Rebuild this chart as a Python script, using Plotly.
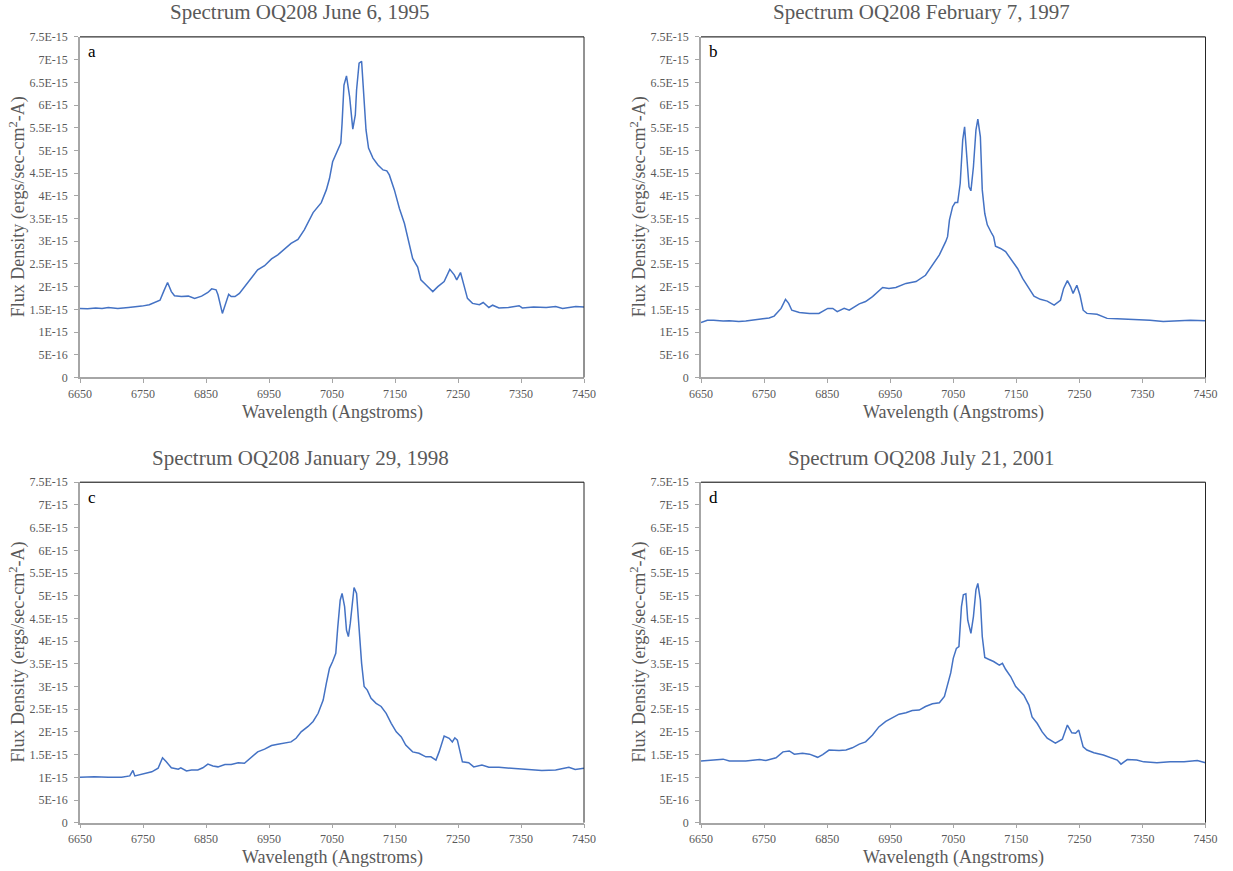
import plotly.graph_objects as go

# ---------------- data (flux in units of 1E-15 ergs/sec-cm2-A) ----------------
SCALE = 1e-15

wl_a = [6650, 6662, 6675, 6685, 6695, 6710, 6727, 6740, 6748, 6760, 6769, 6777, 6783, 6789,
        6795, 6800, 6811, 6822, 6832, 6843, 6853, 6859, 6866, 6869, 6876, 6882, 6886, 6890,
        6896, 6903, 6911, 6922, 6932, 6943, 6954, 6964, 6975, 6985, 6996, 7006, 7020, 7033,
        7041, 7046, 7051, 7057, 7064, 7066, 7069, 7073, 7078, 7083, 7087, 7089, 7093, 7097,
        7101, 7104, 7108, 7115, 7123, 7131, 7137, 7141, 7149, 7157, 7165, 7173, 7178, 7186,
        7191, 7199, 7210, 7218, 7228, 7237, 7244, 7248, 7254, 7260, 7265, 7273, 7284, 7290,
        7299, 7305, 7315, 7330, 7347, 7352, 7370, 7390, 7405, 7416, 7437, 7450]
flux_a = [1.52, 1.51, 1.53, 1.52, 1.54, 1.52, 1.54, 1.55, 1.57, 1.60, 1.65, 1.70, 1.90, 2.09,
          1.89, 1.80, 1.78, 1.79, 1.74, 1.79, 1.87, 1.95, 1.93, 1.82, 1.41, 1.64, 1.83, 1.78,
          1.78, 1.85, 2.00, 2.18, 2.37, 2.46, 2.61, 2.70, 2.83, 2.95, 3.04, 3.25, 3.63, 3.85,
          4.13, 4.38, 4.75, 4.94, 5.16, 5.60, 6.44, 6.64, 6.18, 5.47, 5.78, 6.33, 6.92, 6.96,
          6.18, 5.45, 5.05, 4.83, 4.68, 4.57, 4.55, 4.46, 4.13, 3.72, 3.39, 2.95, 2.62, 2.43,
          2.15, 2.04, 1.89, 2.00, 2.11, 2.38, 2.26, 2.15, 2.31, 2.00, 1.74, 1.63, 1.60, 1.65,
          1.54, 1.59, 1.53, 1.54, 1.58, 1.53, 1.55, 1.54, 1.56, 1.52, 1.56, 1.55]

wl_b = [6650, 6660, 6670, 6685, 6695, 6710, 6721, 6735, 6748, 6758, 6766, 6777, 6784, 6789,
        6794, 6806, 6822, 6837, 6851, 6859, 6866, 6877, 6885, 6901, 6911, 6922, 6938, 6948,
        6959, 6975, 6991, 7006, 7017, 7028, 7038, 7041, 7044, 7049, 7053, 7057, 7061, 7065,
        7068, 7071, 7075, 7078, 7082, 7086, 7089, 7093, 7096, 7100, 7104, 7111, 7114, 7117,
        7125, 7133, 7141, 7152, 7160, 7167, 7178, 7188, 7199, 7210, 7220, 7225, 7231, 7236,
        7240, 7246, 7251, 7256, 7262, 7278, 7294, 7310, 7336, 7362, 7383, 7405, 7426, 7450]
flux_b = [1.21, 1.26, 1.26, 1.24, 1.25, 1.23, 1.24, 1.26, 1.29, 1.31, 1.35, 1.52, 1.72, 1.63,
          1.48, 1.43, 1.41, 1.41, 1.52, 1.52, 1.45, 1.52, 1.48, 1.62, 1.67, 1.78, 1.98, 1.96,
          1.98, 2.07, 2.11, 2.25, 2.47, 2.70, 2.99, 3.10, 3.47, 3.76, 3.85, 3.85, 4.27, 5.23,
          5.52, 5.01, 4.20, 4.11, 4.64, 5.45, 5.69, 5.30, 4.13, 3.61, 3.36, 3.17, 3.10, 2.89,
          2.84, 2.77, 2.62, 2.40, 2.18, 2.03, 1.79, 1.72, 1.68, 1.59, 1.70, 1.96, 2.13, 2.00,
          1.85, 2.03, 1.81, 1.48, 1.41, 1.39, 1.30, 1.29, 1.28, 1.26, 1.23, 1.25, 1.26, 1.25]

wl_c = [6650, 6673, 6695, 6716, 6729, 6734, 6737, 6748, 6764, 6774, 6781, 6787, 6795, 6806,
        6810, 6819, 6827, 6837, 6845, 6853, 6861, 6869, 6880, 6890, 6901, 6911, 6917, 6925,
        6932, 6943, 6954, 6964, 6975, 6985, 6993, 7001, 7012, 7020, 7028, 7036, 7041, 7046,
        7051, 7056, 7059, 7063, 7066, 7070, 7073, 7076, 7079, 7083, 7085, 7089, 7093, 7097,
        7101, 7106, 7112, 7120, 7128, 7136, 7144, 7152, 7160, 7167, 7178, 7188, 7199, 7207,
        7215, 7220, 7228, 7236, 7241, 7245, 7249, 7253, 7257, 7267, 7275, 7288, 7299, 7315,
        7336, 7362, 7383, 7405, 7426, 7436, 7450]
flux_c = [1.00, 1.01, 1.00, 1.00, 1.03, 1.15, 1.03, 1.07, 1.12, 1.20, 1.43, 1.34, 1.21, 1.18,
          1.21, 1.14, 1.16, 1.16, 1.21, 1.29, 1.25, 1.23, 1.28, 1.28, 1.32, 1.31, 1.38, 1.49,
          1.56, 1.62, 1.70, 1.73, 1.75, 1.78, 1.86, 2.00, 2.12, 2.23, 2.41, 2.70, 3.07, 3.40,
          3.55, 3.73, 4.28, 4.90, 5.05, 4.76, 4.24, 4.10, 4.39, 4.94, 5.18, 5.05, 4.24, 3.51,
          3.00, 2.92, 2.74, 2.63, 2.56, 2.41, 2.19, 2.00, 1.89, 1.71, 1.56, 1.53, 1.45, 1.45,
          1.38, 1.56, 1.91, 1.86, 1.78, 1.87, 1.82, 1.56, 1.34, 1.32, 1.23, 1.27, 1.22, 1.22,
          1.20, 1.17, 1.15, 1.16, 1.22, 1.17, 1.20]

wl_d = [6650, 6670, 6685, 6695, 6721, 6743, 6753, 6769, 6780, 6790, 6798, 6811, 6822, 6835,
        6843, 6853, 6869, 6880, 6890, 6901, 6911, 6922, 6932, 6943, 6954, 6964, 6975, 6985,
        6996, 7006, 7017, 7028, 7036, 7041, 7046, 7050, 7055, 7059, 7063, 7066, 7070, 7073,
        7078, 7082, 7086, 7089, 7093, 7096, 7100, 7106, 7114, 7123, 7128, 7133, 7141, 7149,
        7154, 7162, 7170, 7175, 7183, 7191, 7199, 7212, 7223, 7231, 7238, 7244, 7249, 7256,
        7262, 7273, 7288, 7299, 7310, 7316, 7326, 7341, 7352, 7373, 7394, 7416, 7437, 7450]
flux_d = [1.36, 1.38, 1.40, 1.36, 1.36, 1.39, 1.37, 1.43, 1.56, 1.58, 1.51, 1.53, 1.51, 1.44,
          1.50, 1.60, 1.59, 1.60, 1.65, 1.73, 1.78, 1.93, 2.11, 2.23, 2.31, 2.39, 2.42, 2.47,
          2.48, 2.56, 2.62, 2.64, 2.78, 3.03, 3.30, 3.62, 3.84, 3.88, 4.76, 5.02, 5.04, 4.46,
          4.17, 4.54, 5.13, 5.27, 4.90, 4.10, 3.64, 3.60, 3.55, 3.47, 3.51, 3.38, 3.22, 3.00,
          2.92, 2.81, 2.59, 2.33, 2.19, 2.00, 1.86, 1.75, 1.84, 2.15, 1.98, 1.97, 2.04, 1.67,
          1.60, 1.54, 1.49, 1.44, 1.38, 1.29, 1.39, 1.38, 1.34, 1.32, 1.34, 1.34, 1.37, 1.32]

titles = ["Spectrum OQ208 June 6, 1995", "Spectrum OQ208 February 7, 1997",
          "Spectrum OQ208 January 29, 1998", "Spectrum OQ208 July 21, 2001"]
letters = ["a", "b", "c", "d"]

x_ticks = [6650, 6750, 6850, 6950, 7050, 7150, 7250, 7350, 7450]
y_tickvals = [0, 0.5, 1, 1.5, 2, 2.5, 3, 3.5, 4, 4.5, 5, 5.5, 6, 6.5, 7, 7.5]
y_ticktext = ["0", "5E-16", "1E-15", "1.5E-15", "2E-15", "2.5E-15", "3E-15", "3.5E-15",
              "4E-15", "4.5E-15", "5E-15", "5.5E-15", "6E-15", "6.5E-15", "7E-15", "7.5E-15"]
x_title = "Wavelength (Angstroms)"
y_title = "Flux Density (ergs/sec-cm<sup>2</sup>-A)"

# ---------------- layout geometry (pixels) ----------------
W, H = 1233, 871
FONT = "Times New Roman, Liberation Serif, serif"
GRAY = "#595959"
LINE = "#4472C4"

# panel plot areas: (left, right, top, bottom) in pixels
panels = [(80, 584, 36.9, 377.4), (701, 1205.5, 36.9, 377.4),
          (80, 584, 482.2, 822.7), (701, 1205.5, 482.2, 822.7)]
title_cx = [300, 921, 300, 921]

def px(x):
    return x / W

def py(y):
    return 1 - y / H

series = [(wl_a, flux_a), (wl_b, flux_b), (wl_c, flux_c), (wl_d, flux_d)]

fig = go.Figure()
annotations = []
shapes = []
layout_axes = {}

for i, ((wl, fl), (l, r, t, b)) in enumerate(zip(series, panels)):
    n = i + 1
    xa = "x" if n == 1 else f"x{n}"
    ya = "y" if n == 1 else f"y{n}"
    fig.add_trace(go.Scatter(
        x=wl, y=[v * SCALE for v in fl], xaxis=xa, yaxis=ya, mode="lines",
        line=dict(color=LINE, width=1.5), showlegend=False,
        hovertemplate="%{x} Å<br>%{y:.3e}<extra></extra>"))

    xkey = "xaxis" if n == 1 else f"xaxis{n}"
    ykey = "yaxis" if n == 1 else f"yaxis{n}"
    layout_axes[xkey] = dict(
        domain=[px(l), px(r)], anchor=ya, range=[6650, 7450],
        tickmode="array", tickvals=x_ticks, ticks="outside", ticklen=4,
        tickcolor="#A6A6A6", showline=True, linecolor="#A6A6A6", linewidth=1.5,
        showgrid=False, zeroline=False, automargin=False,
        tickfont=dict(family=FONT, size=12, color=GRAY))
    layout_axes[ykey] = dict(
        domain=[py(b), py(t)], anchor=xa, range=[0, 7.5 * SCALE],
        tickmode="array", tickvals=[v * SCALE for v in y_tickvals], ticktext=y_ticktext,
        ticks="outside", ticklen=4, tickcolor="#A6A6A6", showline=True,
        linecolor="#A6A6A6", linewidth=1.5, showgrid=False, zeroline=False,
        automargin=False, ticklabelstandoff=4,
        tickfont=dict(family=FONT, size=12, color=GRAY))

    # frame: top and right border
    shapes.append(dict(type="line", xref="paper", yref="paper", x0=px(l), x1=px(r),
                       y0=py(t), y1=py(t), line=dict(color="#000000", width=1)))
    shapes.append(dict(type="line", xref="paper", yref="paper", x0=px(r), x1=px(r),
                       y0=py(t), y1=py(b), line=dict(color="#262626", width=1)))

    # titles
    annotations.append(dict(text=titles[i], x=px(title_cx[i]), y=py(t - 24.5),
                            xref="paper", yref="paper", showarrow=False,
                            xanchor="center", yanchor="middle",
                            font=dict(family=FONT, size=21, color=GRAY)))
    annotations.append(dict(text=x_title, x=px((l + r) / 2), y=py(b + 35),
                            xref="paper", yref="paper", showarrow=False,
                            xanchor="center", yanchor="middle",
                            font=dict(family=FONT, size=18, color=GRAY)))
    annotations.append(dict(text=y_title, x=px(l - 62), y=py((t + b) / 2),
                            xref="paper", yref="paper", showarrow=False, textangle=-90,
                            xanchor="center", yanchor="middle",
                            font=dict(family=FONT, size=18, color=GRAY)))
    annotations.append(dict(text=letters[i], x=px(l + 6), y=py(t + 15),
                            xref="paper", yref="paper", showarrow=False,
                            xanchor="left", yanchor="middle",
                            font=dict(family=FONT, size=17, color="#000000")))

fig.update_layout(
    width=W, height=H, autosize=False,
    margin=dict(l=0, r=0, t=0, b=0),
    paper_bgcolor="white", plot_bgcolor="white",
    annotations=annotations, shapes=shapes,
    **layout_axes)

fig.write_html("out.html",
               config={"displayModeBar": False},
               post_script="document.body.style.margin='0px';"
                           "document.body.style.overflow='hidden';")
